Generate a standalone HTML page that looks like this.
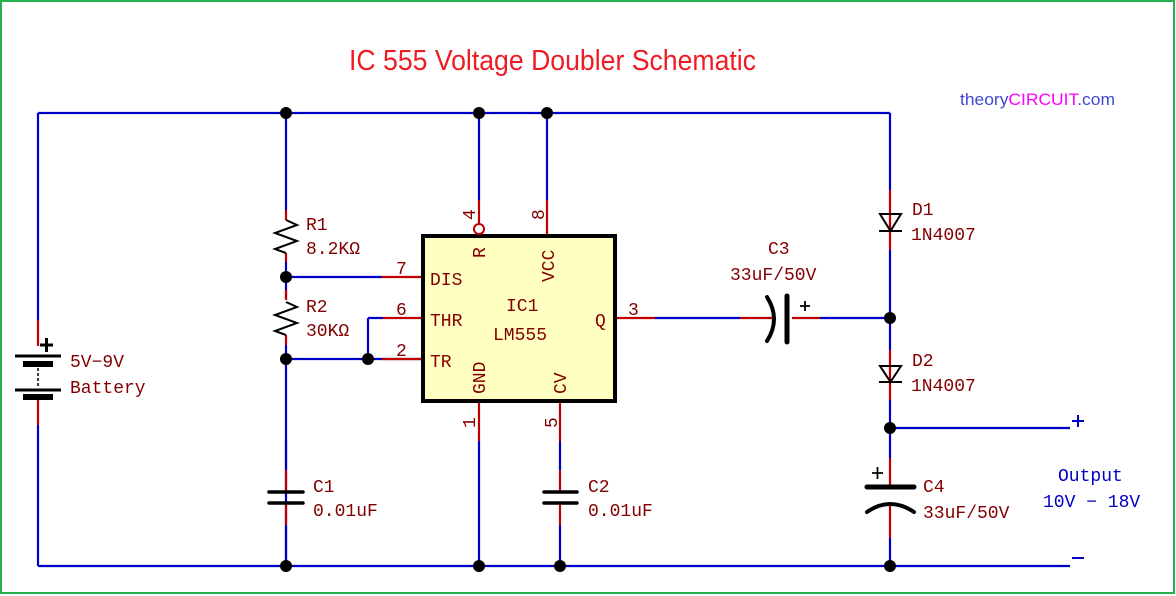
<!DOCTYPE html>
<html><head><meta charset="utf-8"><style>
html,body{margin:0;padding:0;background:#fff;}
svg{display:block;}
.t{font-family:"Liberation Mono","DejaVu Sans Mono",monospace;font-size:18px;fill:#840000;}
</style></head><body>
<svg width="1176" height="596" viewBox="0 0 1176 596" xmlns="http://www.w3.org/2000/svg">
<rect x="1" y="1" width="1173" height="592" fill="#fff" stroke="#22b14c" stroke-width="2"/>
<text x="349" y="70" font-family="Liberation Sans, sans-serif" font-size="29" fill="#ee1c24" textLength="407" lengthAdjust="spacingAndGlyphs">IC 555 Voltage Doubler Schematic</text>
<text x="960" y="105" font-family="Liberation Sans, sans-serif" font-size="17" textLength="155" lengthAdjust="spacingAndGlyphs"><tspan fill="#3f48cc">theory</tspan><tspan fill="#ff00ff">CIRCUIT</tspan><tspan fill="#3f48cc">.com</tspan></text>

<g stroke="#0000c8" stroke-width="2.2" fill="none">
<path d="M38 113H890M38 566H1070M38 113V320M38 425V566"/>
<path d="M286 113V210M286 262V300M286 345V566"/>
<path d="M286 277H382M286 359H422M368 318H383M368 318V359"/>
<path d="M479 113V200M547 113V200M479 441V566M560 441V470M560 525V566"/>
<path d="M655 318H740M820 318H890"/>
<path d="M890 113V190M890 250V350M890 400V458M890 538V566M890 428H1070"/>
<path d="M286 440V470M286 525V566"/>
</g>
<g stroke="#c00000" stroke-width="2.2" fill="none">
<path d="M38 320V346M38 400V425"/>
<path d="M286 210V220M286 253V262M286 290V300M286 335V345M286 470V492M286 503V525"/>
<path d="M382 277H422M383 318H422M382 359H422"/>
<path d="M479 200V224M547 200V236M479 401V441M560 401V441M560 470V492M560 503V525"/>
<path d="M615 318H655M740 318H772M792 318H820"/>
<path d="M890 190V250M890 350V400M890 458V487M890 505V538"/>
</g>
<g stroke="#000" stroke-width="2" fill="none">
<path d="M286 220L297 225L275 233L297 241L275 249L286 253"/>
<path d="M286 302L297 307L275 315L297 323L275 331L286 335"/>
</g>
<g stroke="#000" fill="none">
<path d="M15 356H61" stroke-width="3"/>
<path d="M23 364H53" stroke-width="6"/>
<path d="M38 368V386" stroke-width="1.5" stroke-dasharray="3,2"/>
<path d="M15 390H61" stroke-width="3"/>
<path d="M23 397H53" stroke-width="6"/>
<path d="M40 345H53M46.5 338V352" stroke-width="3"/>
</g>
<g stroke="#000" stroke-width="3.5" stroke-linecap="round" fill="none">
<path d="M269 492H303M269 503H303M544 492H577M544 503H577"/>
<path d="M787 296V342" stroke-width="5"/>
<path d="M767 297Q781 319 767 341" stroke-width="4"/>
<path d="M867 487H914" stroke-width="5"/>
<path d="M867 512Q890 496 914 512" stroke-width="4"/>
</g>
<path d="M800 306H810M805 301V311M872 473H883M877.5 467V479" stroke="#000" stroke-width="1.8"/>
<g stroke="#000" stroke-width="2" fill="none">
<path d="M880 214H901L890.5 231ZM879 231H902"/>
<path d="M880 366H901L890.5 382ZM879 382H902"/>
</g>
<rect x="423" y="236" width="192" height="165" fill="#ffffc2" stroke="#000" stroke-width="4"/>
<circle cx="479" cy="229" r="5" fill="#fff" stroke="#c00000" stroke-width="2"/>
<g fill="#000">
<circle cx="286" cy="113" r="6"/><circle cx="479" cy="113" r="6"/><circle cx="547" cy="113" r="6"/>
<circle cx="286" cy="277" r="6"/><circle cx="286" cy="359" r="6"/><circle cx="368" cy="359" r="6"/>
<circle cx="286" cy="566" r="6"/><circle cx="479" cy="566" r="6"/><circle cx="560" cy="566" r="6"/>
<circle cx="890" cy="318" r="6"/><circle cx="890" cy="428" r="6"/><circle cx="890" cy="566" r="6"/>
</g>
<g class="t">
<text x="70" y="367">5V−9V</text>
<text x="70" y="393">Battery</text>
<text x="306" y="230">R1</text><text x="306" y="254">8.2KΩ</text>
<text x="306" y="312">R2</text><text x="306" y="336">30KΩ</text>
<text x="396" y="274">7</text><text x="396" y="315">6</text><text x="396" y="356">2</text>
<text x="430" y="285">DIS</text><text x="430" y="326">THR</text><text x="430" y="367">TR</text>
<text x="506" y="311">IC1</text><text x="493" y="340">LM555</text>
<text x="595" y="326">Q</text><text x="628" y="315">3</text>
<text transform="translate(485,258) rotate(-90)">R</text>
<text transform="translate(554,282) rotate(-90)">VCC</text>
<text transform="translate(485,394) rotate(-90)">GND</text>
<text transform="translate(566,394) rotate(-90)">CV</text>
<text transform="translate(475,220) rotate(-90)">4</text>
<text transform="translate(544,220) rotate(-90)">8</text>
<text transform="translate(475,428) rotate(-90)">1</text>
<text transform="translate(557,428) rotate(-90)">5</text>
<text x="313" y="492">C1</text><text x="313" y="516">0.01uF</text>
<text x="588" y="492">C2</text><text x="588" y="516">0.01uF</text>
<text x="768" y="254">C3</text><text x="730" y="280">33uF/50V</text>
<text x="912" y="215">D1</text><text x="911" y="240">1N4007</text>
<text x="912" y="366">D2</text><text x="911" y="391">1N4007</text>
<text x="923" y="492">C4</text><text x="923" y="518">33uF/50V</text>
</g>
<g class="t" style="fill:#0000c8">
<text x="1058" y="481">Output</text>
<text x="1043" y="507">10V − 18V</text>
</g>
<path d="M1072 421H1084M1078 415V427M1072 558H1084" stroke="#0000c8" stroke-width="2"/>
</svg>
</body></html>
